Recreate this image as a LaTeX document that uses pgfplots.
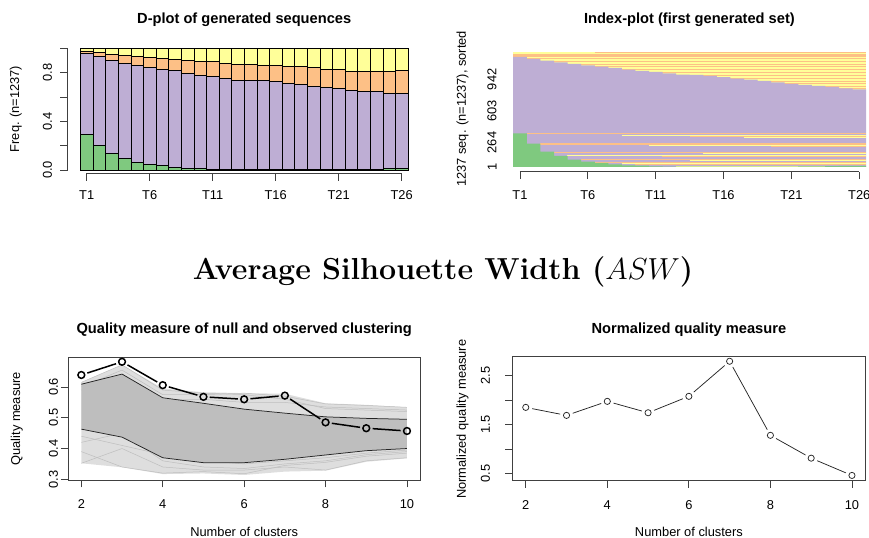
\RequirePackage{fix-cm}
\documentclass[border=0pt]{standalone}
\usepackage{fontspec}
\usepackage{pgfplots}
\usepackage{pgfplotstable}
\pgfplotsset{compat=1.18}
\newfontfamily\arial{Liberation Sans}
\definecolor{acG}{HTML}{7FC97F}
\definecolor{acP}{HTML}{BEAED4}
\definecolor{acO}{HTML}{FDC086}
\definecolor{acY}{HTML}{FFFF99}
\definecolor{rgray}{HTML}{BEBEBE}
\definecolor{lgray}{HTML}{DEDEDE}
\definecolor{axc}{HTML}{404040}

% D-plot shares: green, purple, orange, yellow
\pgfplotstableread{
t g p o y
1 .293 .666 .021 .020
2 .203 .729 .032 .036
3 .134 .765 .052 .049
4 .096 .778 .066 .060
5 .063 .795 .074 .068
6 .047 .794 .082 .077
7 .036 .791 .091 .082
8 .022 .794 .096 .088
9 .014 .781 .109 .096
10 .011 .770 .115 .104
11 .005 .762 .123 .110
12 .004 .749 .126 .121
13 .004 .736 .128 .132
14 .004 .736 .128 .132
15 .004 .730 .129 .137
16 .004 .722 .134 .140
17 .004 .706 .139 .151
18 .004 .697 .148 .151
19 .004 .686 .151 .159
20 .004 .673 .153 .170
21 .004 .664 .157 .175
22 .006 .649 .156 .189
23 .006 .643 .162 .189
24 .008 .636 .170 .186
25 .010 .623 .178 .189
26 .010 .617 .189 .184
}\dtab

\pgfplotsset{
  rstyle/.style={
    scale only axis,
    anchor=south west,
    font=\arial\fontsize{12.9}{15}\selectfont,
    tick label style={font=\arial\fontsize{12.9}{15}\selectfont},
    /pgf/number format/assume math mode=true,
    tick align=outside,
    major tick length=7.5bp,
    every tick/.style={axc, line width=0.75bp},
    axis line style={axc, line width=0.75bp},
    xticklabel style={anchor=north, inner sep=0pt},
    yticklabel style={rotate=90, anchor=south, inner sep=0pt},
  },
  ostr/.style={acO, line width=#1},
}
\tikzset{
  tfont/.style={font=\arial\bfseries\fontsize{14.7}{17}\selectfont, anchor=base, inner sep=0pt},
  lfont/.style={font=\arial\fontsize{12.9}{15}\selectfont, anchor=base, inner sep=0pt},
}

\begin{document}
\begin{tikzpicture}
\useasboundingbox (0,0) rectangle (869bp,538bp);

% ---------------- D-plot ----------------
\begin{axis}[rstyle, at={(67.7bp,364.7bp)}, width=340.3bp, height=124.9bp,
  xmin=-0.508, xmax=26.5, ymin=-0.0271, ymax=1,
  ybar stacked, bar width=1,
  axis x line*=bottom, axis y line*=left, axis line style={draw=none,-},
  xtick={1,6,11,16,21,26}, xticklabels={T1,T6,T11,T16,T21,T26},
  ytick={0,0.2,0.4,0.6,0.8,1}, yticklabels={0.0,,0.4,,0.8,},
  xticklabel shift=9.9bp, yticklabel shift=7.9bp,
  clip=false]
\addplot[fill=acG, draw=black, line width=0.6bp] table[x=t,y=g]{\dtab};
\addplot[fill=acP, draw=black, line width=0.6bp] table[x=t,y=p]{\dtab};
\addplot[fill=acO, draw=black, line width=0.6bp] table[x=t,y=o]{\dtab};
\addplot[fill=acY, draw=black, line width=0.6bp] table[x=t,y=y]{\dtab};
\draw[axc, line width=0.75bp] (axis cs:1,-0.0271) -- (axis cs:26,-0.0271);
\draw[axc, line width=0.75bp] (axis cs:-0.508,0) -- (axis cs:-0.508,1);
\end{axis}

% ---------------- Index plot ----------------
\begin{axis}[rstyle, at={(513.2bp,366.3bp)}, width=352.8bp, height=119.7bp,
  xmin=0.5, xmax=26.5, ymin=-50.6, ymax=1237,
  axis x line*=bottom, axis y line*=left, axis line style={draw=none,-},
  xtick={1,6,11,16,21,26}, xticklabels={T1,T6,T11,T16,T21,T26},
  ytick={1,264,603,942}, yticklabels={1,264,603,942},
  ytick style={draw=none},
  xticklabel shift=10.8bp, yticklabel shift=9bp,
  clip mode=individual]
% background: yellow
\addplot[fill=acY, draw=none] coordinates {(0.5,1237) (26.5,1237)} \closedcycle;
% orange stripes of the upper part
\addplot[ostr=0.8bp] coordinates {(6.5,1229) (26.5,1229)};
\addplot[ostr=2.5bp] coordinates {(0.5,1198) (26.5,1198)};
\addplot[ostr=1.0bp] coordinates {(0.5,1166) (26.5,1166)};
\addplot[ostr=1.0bp] coordinates {(0.5,1136) (26.5,1136)};
\addplot[ostr=0.8bp] coordinates {(0.5,1106) (26.5,1106)};
\addplot[ostr=1.0bp] coordinates {(0.5,1077) (26.5,1077)};
\addplot[ostr=0.8bp] coordinates {(0.5,1047) (26.5,1047)};
\addplot[ostr=1.0bp] coordinates {(0.5,1016) (26.5,1016)};
\addplot[ostr=0.8bp] coordinates {(0.5,986) (26.5,986)};
\addplot[ostr=1.0bp] coordinates {(0.5,956) (26.5,956)};
\addplot[ostr=0.8bp] coordinates {(0.5,926) (26.5,926)};
\addplot[ostr=1.0bp] coordinates {(0.5,897) (26.5,897)};
\addplot[ostr=0.8bp] coordinates {(0.5,868) (26.5,868)};
\addplot[ostr=1.0bp] coordinates {(0.5,843) (26.5,843)};
% main purple block
\addplot[ybar, bar width=1.02, bar shift=0pt, fill=acP, draw=none] coordinates {
(1,1184) (2,1162) (3,1144) (4,1126) (5,1108) (6,1094) (7,1079) (8,1065) (9,1047)
(10,1033) (11,1022) (12,1008) (13,993) (14,990) (15,979) (16,968) (17,950) (18,940)
(19,925) (20,911) (21,893) (22,882) (23,872) (24,861) (25,846) (26,836)};
% stripes of the lower part
\addplot[acO, line width=1.3bp] coordinates {(1.5,358) (26.5,358)};
\addplot[acY, line width=0.8bp] coordinates {(8.5,345) (26.5,345)};
\addplot[acO, line width=0.9bp] coordinates {(13.5,330) (26.5,330)};
\addplot[acY, line width=0.8bp] coordinates {(17.5,318) (26.5,318)};
\addplot[acO, line width=1.3bp] coordinates {(2.5,248) (26.5,248)};
\addplot[acY, line width=0.8bp] coordinates {(10.5,236) (26.5,236)};
\addplot[acO, line width=0.7bp] coordinates {(19.5,222) (26.5,222)};
\addplot[acO, line width=1.1bp] coordinates {(3.5,158) (26.5,158)};
\addplot[acY, line width=0.7bp] coordinates {(14.5,145) (26.5,145)};
\addplot[acY, line width=1.0bp] coordinates {(4.5,125) (26.5,125)};
\addplot[acO, line width=0.7bp] coordinates {(11.5,116) (26.5,116)};
\addplot[acO, line width=1.0bp] coordinates {(5.5,82) (26.5,82)};
\addplot[acY, line width=0.7bp] coordinates {(13.5,70) (26.5,70)};
\addplot[acO, line width=1.0bp] coordinates {(6.5,50) (26.5,50)};
\addplot[acY, line width=0.8bp] coordinates {(8.5,36) (26.5,36)};
\addplot[acO, line width=0.9bp] coordinates {(9.5,22) (26.5,22)};
\addplot[acY, line width=0.7bp] coordinates {(12.5,8) (26.5,8)};
% green
\addplot[ybar, bar width=1.02, bar shift=0pt, fill=acG, draw=none] coordinates {
(1,362) (2,251) (3,166) (4,119) (5,78) (6,58) (7,45) (8,27) (9,17) (10,14) (11,6)
(12,5) (13,5) (14,5) (15,5) (16,5) (17,5) (18,5) (19,5) (20,5) (21,5) (22,7) (23,7)
(24,10) (25,12) (26,12)};
\draw[axc, line width=0.75bp] (axis cs:1,-50.6) -- (axis cs:26,-50.6);
\end{axis}

% ---------------- Quality measure ----------------
\begin{axis}[rstyle, at={(68.3bp,58bp)}, width=351.7bp, height=123bp,
  xmin=1.68, xmax=10.32, ymin=0.2977, ymax=0.6975,
  tick pos=left,
  xtick={2,4,6,8,10}, xticklabels={2,4,6,8,10},
  ytick={0.3,0.4,0.5,0.6}, yticklabels={0.3,0.4,0.5,0.6},
  xticklabel shift=11.5bp, yticklabel shift=2.5bp]
\addplot[fill=lgray, draw=none] coordinates {
(2,.615) (3,.672) (4,.595) (5,.583) (6,.580) (7,.578) (8,.547) (9,.542) (10,.534)
(10,.368) (9,.357) (8,.328) (7,.325) (6,.314) (5,.319) (4,.317) (3,.339) (2,.352)};
\addplot[rgray, line width=0.5bp] coordinates {(2,.352) (3,.400) (4,.340) (5,.330) (6,.330) (7,.340) (8,.330) (9,.360) (10,.370)};
\addplot[rgray, line width=0.5bp] coordinates {(2,.390) (3,.340) (4,.320) (5,.325) (6,.318) (7,.345) (8,.355) (9,.375) (10,.385)};
\addplot[rgray, line width=0.5bp] coordinates {(2,.420) (3,.450) (4,.360) (5,.340) (6,.335) (7,.350) (8,.360) (9,.380) (10,.390)};
\addplot[rgray, line width=0.5bp] coordinates {(2,.440) (3,.410) (4,.380) (5,.360) (6,.350) (7,.360) (8,.370) (9,.385) (10,.395)};
\addplot[rgray, line width=0.5bp] coordinates {(2,.615) (3,.672) (4,.590) (5,.580) (6,.575) (7,.560) (8,.530) (9,.525) (10,.520)};
\addplot[rgray, line width=0.5bp] coordinates {(2,.600) (3,.655) (4,.575) (5,.575) (6,.580) (7,.570) (8,.545) (9,.540) (10,.534)};
\addplot[rgray, line width=0.5bp] coordinates {(2,.590) (3,.630) (4,.560) (5,.560) (6,.550) (7,.550) (8,.535) (9,.530) (10,.525)};
\addplot[fill=rgray, draw=none] coordinates {
(2,.609) (3,.642) (4,.565) (5,.547) (6,.528) (7,.515) (8,.503) (9,.498) (10,.495)
(10,.400) (9,.393) (8,.379) (7,.365) (6,.354) (5,.354) (4,.370) (3,.437) (2,.463)};
\addplot[black!85, line width=0.75bp] coordinates {(2,.609) (3,.642) (4,.565) (5,.547) (6,.528) (7,.515) (8,.503) (9,.498) (10,.495)};
\addplot[black!85, line width=0.75bp] coordinates {(2,.463) (3,.437) (4,.370) (5,.354) (6,.354) (7,.365) (8,.379) (9,.393) (10,.400)};
\addplot[black, line width=1.5bp, shorten <=6.3bp, shorten >=6.3bp] coordinates {(2,.639) (3,.682)};
\addplot[black, line width=1.5bp, shorten <=6.3bp, shorten >=6.3bp] coordinates {(3,.682) (4,.606)};
\addplot[black, line width=1.5bp, shorten <=6.3bp, shorten >=6.3bp] coordinates {(4,.606) (5,.568)};
\addplot[black, line width=1.5bp, shorten <=6.3bp, shorten >=6.3bp] coordinates {(5,.568) (6,.560)};
\addplot[black, line width=1.5bp, shorten <=6.3bp, shorten >=6.3bp] coordinates {(6,.560) (7,.572)};
\addplot[black, line width=1.5bp, shorten <=6.3bp, shorten >=6.3bp] coordinates {(7,.572) (8,.485)};
\addplot[black, line width=1.5bp, shorten <=6.3bp, shorten >=6.3bp] coordinates {(8,.485) (9,.466)};
\addplot[black, line width=1.5bp, shorten <=6.3bp, shorten >=6.3bp] coordinates {(9,.466) (10,.457)};
\addplot[only marks, mark=o, mark size=3.4bp, mark options={black, line width=1.5bp}] coordinates {
(2,.639) (3,.682) (4,.606) (5,.568) (6,.560) (7,.572) (8,.485) (9,.466) (10,.457)};
\end{axis}

% ---------------- Normalized ----------------
\begin{axis}[rstyle, at={(512.7bp,58bp)}, width=352.3bp, height=123.3bp,
  xmin=1.68, xmax=10.32, ymin=0.3666, ymax=2.8884,
  tick pos=left,
  xtick={2,4,6,8,10}, xticklabels={2,4,6,8,10},
  ytick={0.5,1,1.5,2,2.5}, yticklabels={0.5,,1.5,,2.5},
  xticklabel shift=12.5bp, yticklabel shift=15bp]
\addplot[black!85, line width=0.75bp, shorten <=6.5bp, shorten >=6.5bp] coordinates {(2,1.852) (3,1.688)};
\addplot[black!85, line width=0.75bp, shorten <=6.5bp, shorten >=6.5bp] coordinates {(3,1.688) (4,1.975)};
\addplot[black!85, line width=0.75bp, shorten <=6.5bp, shorten >=6.5bp] coordinates {(4,1.975) (5,1.742)};
\addplot[black!85, line width=0.75bp, shorten <=6.5bp, shorten >=6.5bp] coordinates {(5,1.742) (6,2.078)};
\addplot[black!85, line width=0.75bp, shorten <=6.5bp, shorten >=6.5bp] coordinates {(6,2.078) (7,2.795)};
\addplot[black!85, line width=0.75bp, shorten <=6.5bp, shorten >=6.5bp] coordinates {(7,2.795) (8,1.280)};
\addplot[black!85, line width=0.75bp, shorten <=6.5bp, shorten >=6.5bp] coordinates {(8,1.280) (9,0.813)};
\addplot[black!85, line width=0.75bp, shorten <=6.5bp, shorten >=6.5bp] coordinates {(9,0.813) (10,0.460)};
\addplot[only marks, mark=o, mark size=3.1bp, mark options={black!85, line width=0.75bp}] coordinates {
(2,1.852) (3,1.688) (4,1.975) (5,1.742) (6,2.078) (7,2.795) (8,1.280) (9,0.813) (10,0.460)};
\end{axis}

% ---------------- titles and labels ----------------
\node[tfont] at (244.2bp,514.7bp) {D-plot of generated sequences};
\node[tfont] at (689.4bp,514.7bp) {Index-plot (first generated set)};
\node[tfont] at (244.2bp,204.7bp) {Quality measure of null and observed clustering};
\node[tfont] at (688.9bp,204.7bp) {Normalized quality measure};
\node[lfont, rotate=90] at (19.2bp,429bp) {Freq. (n=1237)};
\node[lfont, rotate=90] at (465.8bp,429.2bp) {1237 seq. (n=1237), sorted};
\node[lfont, rotate=90] at (20.2bp,119.3bp) {Quality measure};
\node[lfont, rotate=90] at (465.8bp,118.8bp) {Normalized quality measure};
\node[lfont] at (244.2bp,2bp) {Number of clusters};
\node[lfont] at (688.9bp,2bp) {Number of clusters};
\node[anchor=base, inner sep=0pt, font=\fontsize{30.5}{36}\selectfont] at (443bp,258bp)
  {\textbf{Average Silhouette Width (}$ASW$\textbf{)}};
\end{tikzpicture}
\end{document}
